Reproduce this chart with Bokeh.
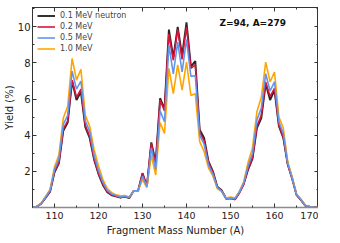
from bokeh.plotting import figure
from bokeh.models import Range1d, FixedTicker, LinearAxis, Legend, LegendItem, Label
from bokeh.embed import file_html
from bokeh.resources import INLINE

mass = list(range(105, 171))
y_01 = [0.0, 0.05, 0.22, 0.55, 0.88, 1.95, 2.45, 4.25, 4.7, 7.0, 5.95, 6.4, 4.45, 3.85, 2.65, 1.85,
        1.25, 0.85, 0.68, 0.62, 0.55, 0.6, 0.52, 0.92, 0.92, 1.9, 1.18, 3.6, 2.5, 6.05, 5.45,
        9.85, 8.3, 10.0, 8.4, 10.25, 7.8, 8.1, 4.3, 3.85, 2.55, 2.0, 1.15, 0.95, 0.5, 0.52, 0.45,
        0.82, 1.3, 2.1, 2.7, 4.4, 4.95, 6.85, 5.95, 6.5, 4.5, 3.85, 2.4, 1.6, 0.7, 0.42, 0.1,
        0.04, 0.01, 0.0]
y_02 = [0.0, 0.05, 0.22, 0.56, 0.9, 2.0, 2.5, 4.35, 4.8, 7.05, 6.1, 6.55, 4.55, 3.95, 2.7, 1.9,
        1.3, 0.88, 0.7, 0.63, 0.56, 0.6, 0.54, 0.93, 0.93, 1.88, 1.18, 3.55, 2.4, 5.95, 5.35,
        9.6, 8.15, 9.85, 8.2, 10.0, 7.7, 7.9, 4.15, 3.7, 2.5, 1.95, 1.12, 0.92, 0.48, 0.5, 0.44,
        0.8, 1.28, 2.15, 2.75, 4.5, 5.1, 6.95, 6.15, 6.6, 4.55, 3.9, 2.4, 1.62, 0.7, 0.42, 0.1,
        0.04, 0.01, 0.0]
y_05 = [0.0, 0.05, 0.23, 0.58, 0.95, 2.1, 2.7, 4.6, 5.1, 7.55, 6.55, 7.0, 4.8, 4.2, 2.9, 2.05,
        1.4, 0.95, 0.75, 0.66, 0.58, 0.62, 0.56, 0.93, 0.94, 1.72, 1.15, 3.3, 2.1, 5.35, 4.75,
        9.0, 7.4, 9.15, 7.5, 9.3, 7.25, 7.3, 4.0, 3.5, 2.35, 1.85, 1.1, 0.9, 0.5, 0.52, 0.48,
        0.85, 1.35, 2.3, 3.0, 4.85, 5.5, 7.4, 6.45, 6.95, 4.75, 4.1, 2.45, 1.65, 0.72, 0.44, 0.11,
        0.05, 0.01, 0.0]
y_10 = [0.0, 0.06, 0.25, 0.62, 1.0, 2.25, 2.9, 4.95, 5.6, 8.25, 7.05, 7.65, 5.1, 4.5, 3.2, 2.3,
        1.55, 1.05, 0.82, 0.7, 0.65, 0.66, 0.58, 0.9, 0.92, 1.55, 1.1, 2.9, 1.8, 4.7, 4.1,
        7.7, 6.3, 7.9, 6.5, 8.05, 6.2, 6.3, 3.65, 3.1, 2.2, 1.75, 1.05, 0.88, 0.52, 0.58, 0.52,
        0.88, 1.42, 2.5, 3.3, 5.3, 6.1, 8.05, 6.95, 7.5, 5.0, 4.4, 2.55, 1.72, 0.75, 0.46, 0.12,
        0.05, 0.01, 0.0]

labels = ["0.1 MeV neutron", "0.2 MeV", "0.5 MeV", "1.0 MeV"]
colors = ["#000000", "crimson", "cornflowerblue", "orange"]
x_ticks = [110, 120, 130, 140, 150, 160, 170]
x_minor = [105, 115, 125, 135, 145, 155, 165]
y_ticks = [2, 4, 6, 8, 10]
y_minor = [1, 3, 5, 7, 9, 11]

FONT = "DejaVu Sans"

p = figure(frame_width=286, frame_height=200, output_backend="svg", toolbar_location=None,
           x_range=Range1d(105, 170), y_range=Range1d(0, 11.07),
           min_border_left=27, min_border_right=0, min_border_top=7, min_border_bottom=0,
           background_fill_color="white", border_fill_color="white")
p.xgrid.visible = False
p.ygrid.visible = False
p.outline_line_color = "#333333"
p.outline_line_width = 1

series = [y_01, y_02, y_05, y_10]
renderers = {}
for idx in [0, 1, 3, 2]:
    alpha = 0.85 if idx == 0 else 1.0
    width = 1.9 if idx == 0 else 1.6
    renderers[idx] = p.line(mass, series[idx], line_color=colors[idx], line_width=width, line_alpha=alpha)

items = [LegendItem(label=labels[i], renderers=[renderers[i]]) for i in range(4)]
legend = Legend(items=items, location=(5, 153), border_line_color=None,
                background_fill_alpha=0, label_text_font=FONT, label_text_font_size="8px",
                glyph_width=18, glyph_height=11, label_height=11, label_standoff=5,
                spacing=0, padding=0, margin=0)
p.add_layout(legend)

def style(ax, labels_on=True):
    ax.axis_line_color = "#333333"
    ax.major_tick_line_color = "#333333"
    ax.minor_tick_line_color = "#333333"
    ax.major_tick_in = 4
    ax.major_tick_out = 0
    ax.minor_tick_in = 2
    ax.minor_tick_out = 0
    ax.major_label_text_font = FONT
    ax.major_label_text_color = "#222222"
    ax.axis_label_text_font = FONT
    ax.axis_label_text_font_style = "normal"
    ax.axis_label_text_font_size = "10px"
    ax.axis_label_text_color = "#222222"
    if not labels_on:
        ax.major_label_text_font_size = "1px"
        ax.major_label_text_color = None
        ax.major_label_standoff = 0

xax = p.xaxis[0]
style(xax)
xax.ticker = FixedTicker(ticks=x_ticks, minor_ticks=x_minor)
xax.major_label_text_font_size = "9.5px"
xax.major_label_standoff = 4
xax.axis_label = "Fragment Mass Number (A)"
xax.axis_label_standoff = 3
xax.axis_line_color = "#8c8c8c"
xax.axis_line_width = 1.5

yax = p.yaxis[0]
style(yax)
yax.ticker = FixedTicker(ticks=y_ticks, minor_ticks=y_minor)
yax.major_label_text_font_size = "10px"
yax.major_label_standoff = 2
yax.axis_label = "Yield (%)"
yax.axis_label_standoff = 0

top = LinearAxis(ticker=FixedTicker(ticks=x_ticks, minor_ticks=x_minor))
style(top, False)
p.add_layout(top, "above")
right = LinearAxis(ticker=FixedTicker(ticks=y_ticks, minor_ticks=y_minor))
style(right, False)
p.add_layout(right, "right")

p.add_layout(Label(x=147.5, y=10.2, text="Z=94, A=279", text_font=FONT, text_font_size="9px",
                   text_font_style="bold", text_color="#111111", text_baseline="middle"))

open("out.html", "w").write(file_html(p, INLINE))
